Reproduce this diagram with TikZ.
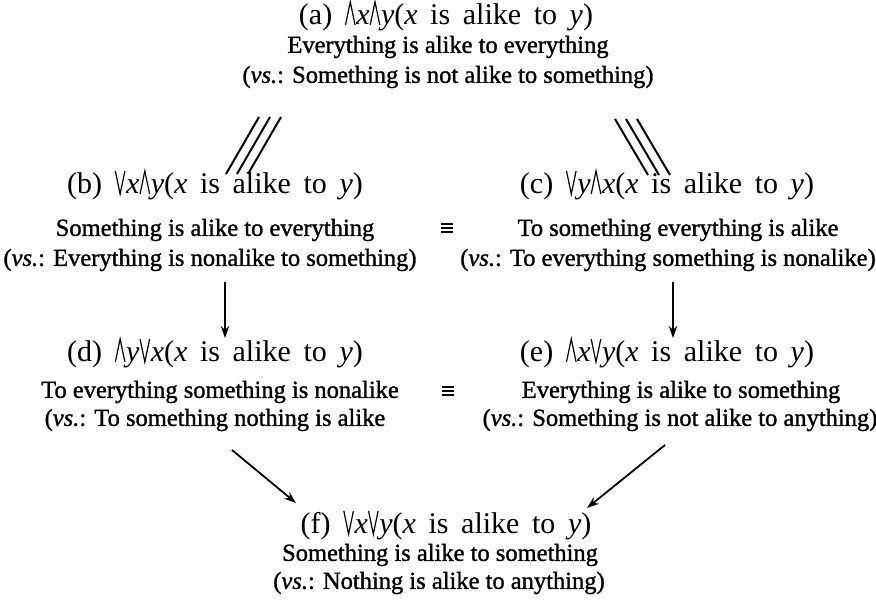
\documentclass[tikz,border=0pt]{standalone}
\usepackage{fontspec}
\setmainfont{Liberation Serif}
\newfontfamily\subfont[FakeBold=1.2]{Liberation Serif}
\usetikzlibrary{arrows.meta}
\newcommand\AllQ{\tikz[baseline=0pt,x=1em,y=1em]\draw[line width=1.2pt,line join=miter,line cap=butt] (0.03,-0.03) -- (0.19,0.74) -- (0.35,-0.03);\hspace{0.02em}}
\newcommand\ExQ{\tikz[baseline=0pt,x=1em,y=1em]\draw[line width=1.2pt,line join=miter,line cap=butt] (0.03,0.74) -- (0.19,-0.03) -- (0.35,0.74);\hspace{0.02em}}
\newcommand\EqSign{\vbox{\hrule width 12pt height 2.2pt\vskip 1.6pt\hrule width 12pt height 2.2pt\vskip 1.6pt\hrule width 12pt height 2.2pt}}
\newcommand\vx{\textit{x}}
\newcommand\vy{\textit{y}}
\newcommand\wsp{\hspace{0.42em}}
\newcommand\formula{(\vx\wsp is\wsp alike\wsp to\wsp\vy)}
\begin{document}
\begin{tikzpicture}[x=1pt,y=-1pt,
  title/.style={font=\fontsize{30}{32}\selectfont, inner sep=0pt},
  sub/.style={font=\subfont\fontsize{24.5}{26}\selectfont, inner sep=0pt},
  imp/.style={-{Stealth[length=12pt,width=8.5pt]}, line width=1.8pt},
  tri/.style={line width=2pt},
  eqs/.style={inner sep=0pt}]
\useasboundingbox (0,0) rectangle (876,601);
\fill[white] (0,0) rectangle (876,601);

% (a)
\node[title] (a) at (446,16) {(a)\wsp\AllQ\vx\AllQ\vy\formula};
\node[sub] (a2) at (448,47) {Everything is alike to everything};
\node[sub] (a3) at (448,77) {(\textit{vs.}: Something is not alike to something)};
% (b)
\node[title] (b) at (215,185) {(b)\wsp\ExQ\vx\AllQ\vy\formula};
\node[sub] (b2) at (215,230) {Something is alike to everything};
\node[sub] (b3) at (210,260) {(\textit{vs.}: Everything is nonalike to something)};
% (c)
\node[title] (c) at (667,185) {(c)\wsp\ExQ\vy\AllQ\vx\formula};
\node[sub] (c2) at (678,230) {To something everything is alike};
\node[sub] (c3) at (668,260) {(\textit{vs.}: To everything something is nonalike)};
% (d)
\node[title] (d) at (215,353) {(d)\wsp\AllQ\vy\ExQ\vx\formula};
\node[sub] (d2) at (220,392) {To everything something is nonalike};
\node[sub] (d3) at (215,420) {(\textit{vs.}: To something nothing is alike};
% (e)
\node[title] (e) at (667,353) {(e)\wsp\AllQ\vx\ExQ\vy\formula};
\node[sub] (e2) at (681,392) {Everything is alike to something};
\node[sub] (e3) at (680,420) {(\textit{vs.}: Something is not alike to anything)};
% (f)
\node[title] (f) at (446,525) {(f)\wsp\ExQ\vx\ExQ\vy\formula};
\node[sub] (f2) at (440,555) {Something is alike to something};
\node[sub] (f3) at (439,583) {(\textit{vs.}: Nothing is alike to anything)};

% equivalence signs
\node[eqs] (eq1) at (447,228) {\EqSign};
\node[eqs] (eq2) at (448,391) {\EqSign};

% triple lines a-b and a-c
\coordinate (abU) at (270,117);
\coordinate (abL) at (237,174);
\coordinate (acU) at (626,119);
\coordinate (acL) at (659,175);
\foreach \s in {-11,0,11}{
  \draw[tri] ([xshift=\s]abL) -- ([xshift=\s]abU);
  \draw[tri] ([xshift=\s]acU) -- ([xshift=\s]acL);
}

% implication arrows
\coordinate (bdS) at (225,282);
\coordinate (bdE) at (225,338);
\coordinate (ceS) at (673,282);
\coordinate (ceE) at (673,338);
\coordinate (dfS) at (232,450);
\coordinate (dfE) at (296,503);
\coordinate (efS) at (665,445);
\coordinate (efE) at (587,508);
\draw[imp] (bdS) -- (bdE);
\draw[imp] (ceS) -- (ceE);
\draw[imp] (dfS) -- (dfE);
\draw[imp] (efS) -- (efE);
\end{tikzpicture}
\end{document}
